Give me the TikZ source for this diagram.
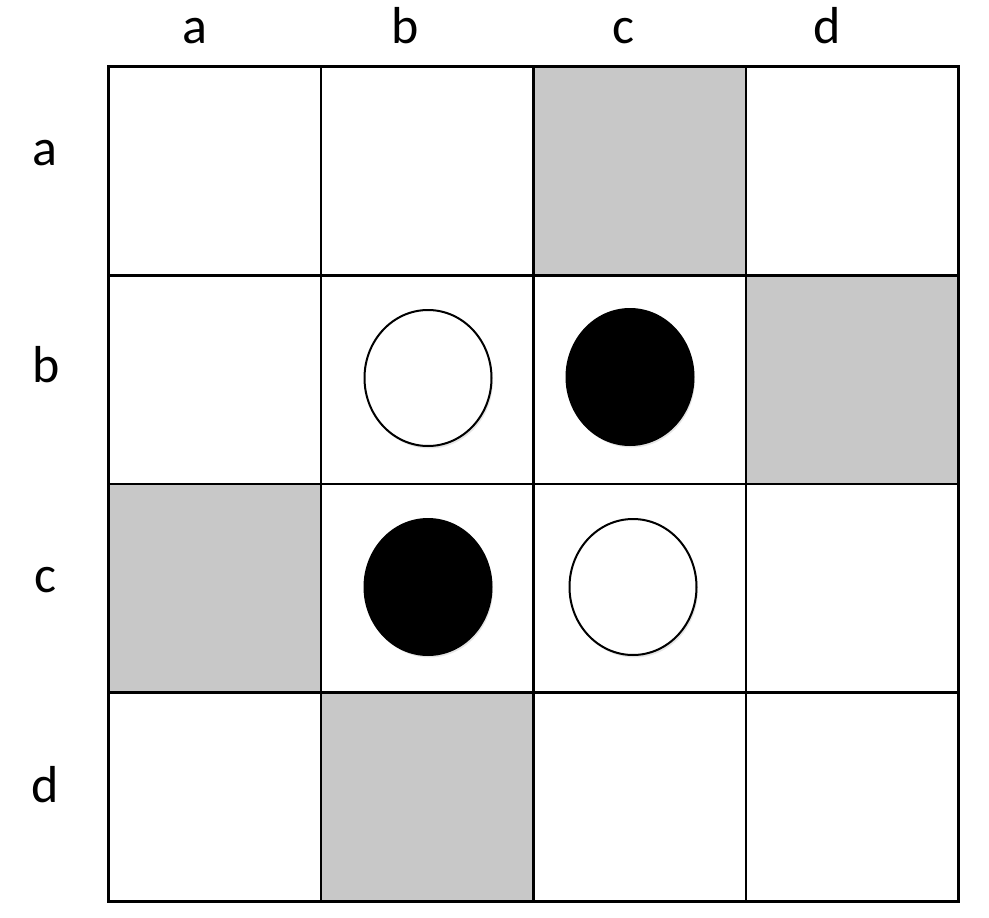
\documentclass[tikz,border=0pt]{standalone}
\usepackage{fontspec}
\setmainfont{Carlito}
\usetikzlibrary{shapes.geometric,shadows}

\definecolor{squaregray}{HTML}{C8C8C8}

\tikzset{
    cell/.style={draw, line width=2.8pt, minimum width=212.5pt, minimum height=208.75pt,
        inner sep=0pt, anchor=north west},
    graycell/.style={cell, fill=squaregray},
    letter/.style={anchor=base, inner sep=0pt, font=\fontsize{52}{60}\selectfont},
    stone/.style={ellipse, draw, line width=2pt, minimum width=127pt, minimum height=136pt,
        inner sep=0pt, drop shadow={opacity=0.2, shadow xshift=1.5pt, shadow yshift=-2.5pt}},
    whitestone/.style={stone, fill=white},
    blackstone/.style={stone, fill=black}
}

\begin{document}
\begin{tikzpicture}[x=1pt, y=-1pt]
    \useasboundingbox[fill=white] (0,0) rectangle (989,918);

    % board
    \foreach \r/\rn in {1/a, 2/b, 3/c, 4/d}
        \foreach \c/\cn in {1/a, 2/b, 3/c, 4/d}
            \node[cell] (cell-\rn\cn) at ({107+(\c-1)*212.5}, {65+(\r-1)*208.75}) {};

    % shaded squares
    \foreach \sq in {ac, bd, ca, db}
        \node[graycell] at (cell-\sq.north west) {};

    % column letters
    \node[letter] (col-a) at (195,43) {a};
    \node[letter] (col-b) at (405,43) {b};
    \node[letter] (col-c) at (623,43) {c};
    \node[letter] (col-d) at (827,43) {d};

    % row letters
    \node[letter] (row-a) at (45,165) {a};
    \node[letter] (row-b) at (46,382) {b};
    \node[letter] (row-c) at (45,592) {c};
    \node[letter] (row-d) at (45,802) {d};

    % stones
    \node[whitestone] (stone-bb) at (428,378) {};
    \node[blackstone] (stone-bc) at (630,377) {};
    \node[blackstone] (stone-cb) at (428,587) {};
    \node[whitestone] (stone-cc) at (633,587) {};
\end{tikzpicture}
\end{document}
